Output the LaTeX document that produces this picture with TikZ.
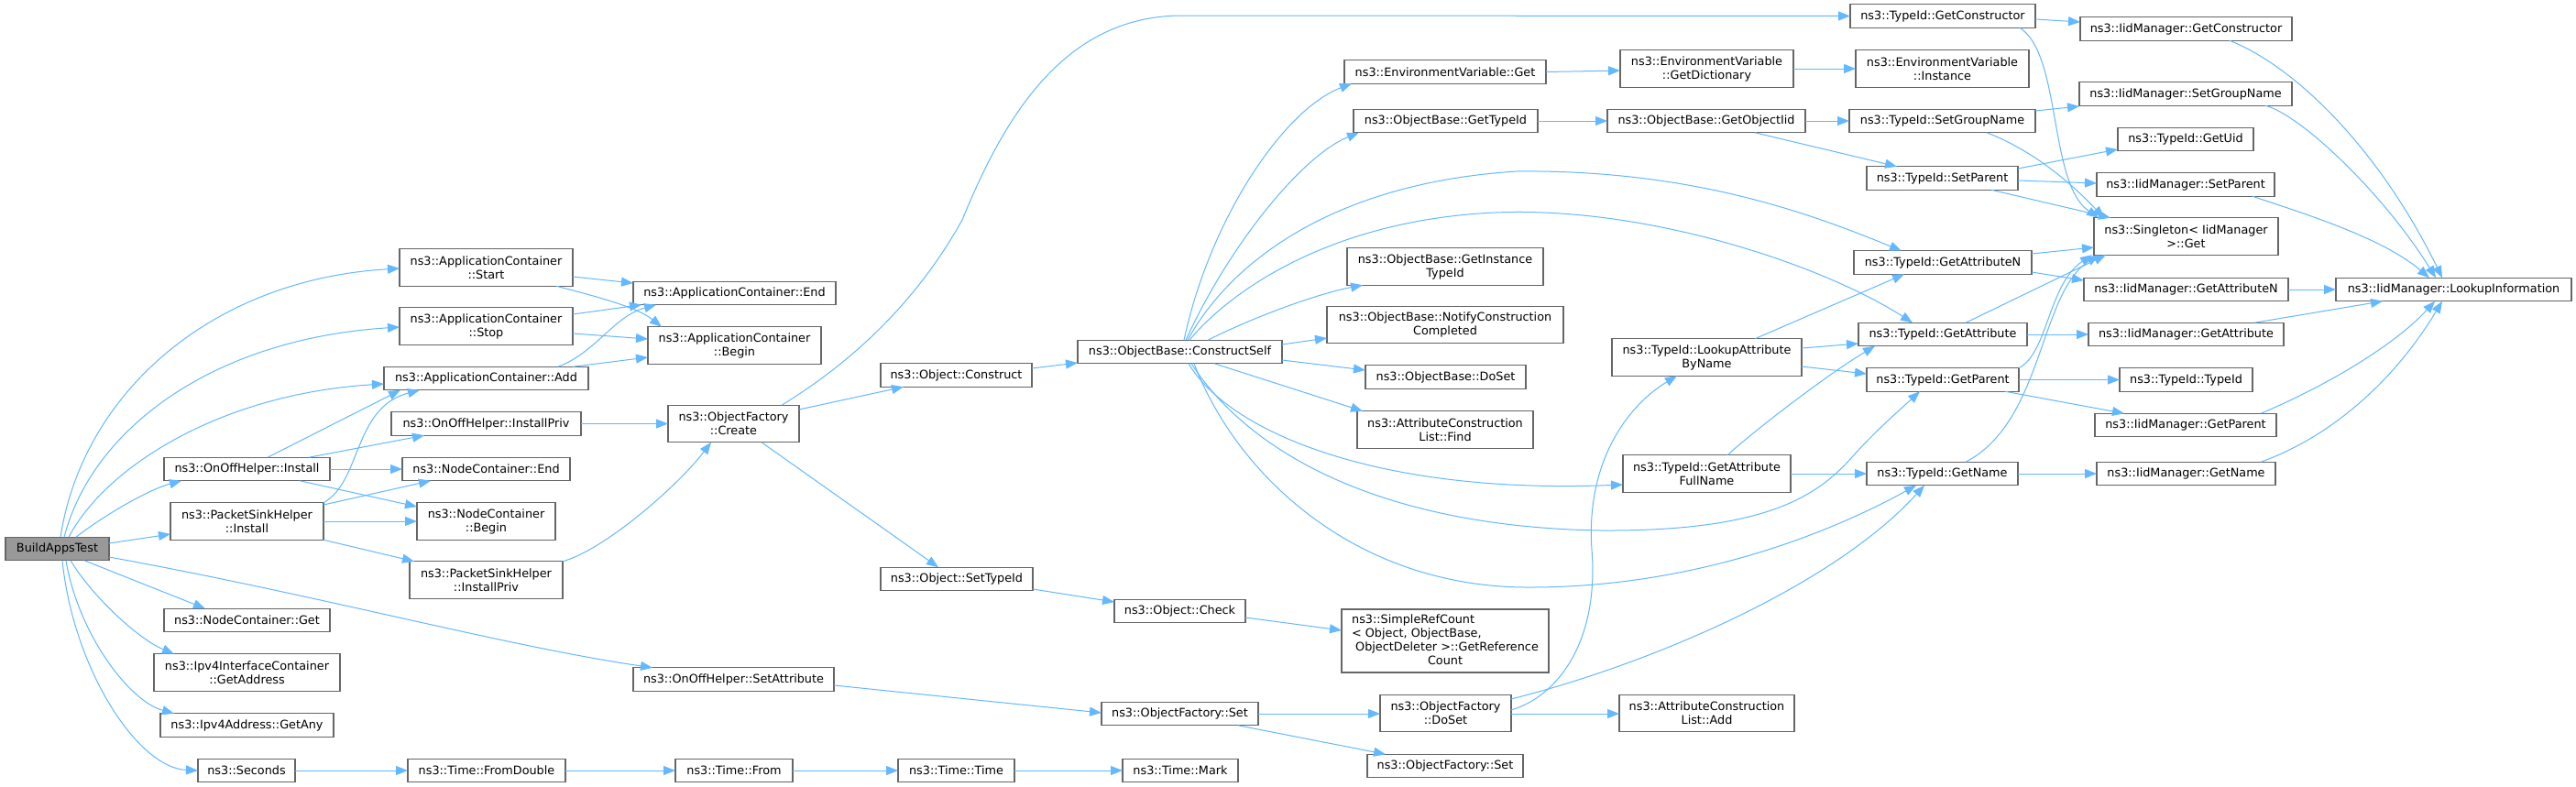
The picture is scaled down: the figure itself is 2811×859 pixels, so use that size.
\documentclass[tikz,border=0pt]{standalone}
\usepackage{fontspec}
\setmainfont{DejaVu Sans}
\usetikzlibrary{arrows.meta}
\definecolor{edgec}{HTML}{63B8FF}
\definecolor{nodeb}{HTML}{666666}
\definecolor{rootf}{HTML}{999999}
\newcommand\nd[7][]{\node[box,#1,minimum width=#5bp,minimum height=#6bp] (#2) at (#3,#4) {#7};}
\begin{document}
\begin{tikzpicture}[x=1bp,y=-1bp,
  box/.style={draw=nodeb,line width=1.1bp,fill=white,inner sep=0pt,outer sep=0pt,align=center,
    font=\fontsize{12.8bp}{15bp}\selectfont,text=black},
  e/.style={draw=edgec,line width=1bp,-{Triangle[length=13bp,width=10bp]}}]
\fill[white] (0,0) rectangle (2811,859);
\useasboundingbox (0,0) rectangle (2811,859);
% column 1
\nd[fill=rootf]{bat}{62.5}{599}{113}{25.5}{BuildAppsTest}
% column 2
\nd{ooinst}{269.5}{512}{181}{25.5}{ns3::OnOffHelper::Install}
\nd{psinst}{269.5}{569}{167}{40.5}{ns3::PacketSinkHelper\\::Install}
\nd{ncget}{269.5}{677}{181}{25.5}{ns3::NodeContainer::Get}
\nd{ipvic}{269.5}{734}{203}{40.5}{ns3::Ipv4InterfaceContainer\\::GetAddress}
\nd{ipvany}{269.5}{791.5}{189}{25.5}{ns3::Ipv4Address::GetAny}
\nd{seconds}{269}{841}{106}{25.5}{ns3::Seconds}
% column 3
\nd{acstart}{530.5}{292}{189}{40.5}{ns3::ApplicationContainer\\::Start}
\nd{acstop}{530.5}{356}{189}{40.5}{ns3::ApplicationContainer\\::Stop}
\nd{acadd}{530.5}{413}{223}{25.5}{ns3::ApplicationContainer::Add}
\nd{ooinstpriv}{530.5}{462.5}{207}{25.5}{ns3::OnOffHelper::InstallPriv}
\nd{ncend}{530.5}{512}{183}{25.5}{ns3::NodeContainer::End}
\nd{ncbegin}{530.5}{569}{151}{40.5}{ns3::NodeContainer\\::Begin}
\nd{psinstpriv}{530.5}{633}{167}{40.5}{ns3::PacketSinkHelper\\::InstallPriv}
\nd{fromdouble}{531}{841}{172}{25.5}{ns3::Time::FromDouble}
% column 4
\nd{acend}{801.5}{320}{221}{25.5}{ns3::ApplicationContainer::End}
\nd{acbegin}{801.5}{377}{189}{40.5}{ns3::ApplicationContainer\\::Begin}
\nd{ofcreate}{800.5}{462.5}{143}{40.5}{ns3::ObjectFactory\\::Create}
\nd{ooset}{800.5}{741.5}{219}{25.5}{ns3::OnOffHelper::SetAttribute}
\nd{tfrom}{801}{841}{128}{25.5}{ns3::Time::From}
% column 5
\nd{objconstruct}{1043.5}{409.5}{165}{25.5}{ns3::Object::Construct}
\nd{objsettid}{1044}{632}{166}{25.5}{ns3::Object::SetTypeId}
\nd{ttime}{1043.5}{841}{127}{25.5}{ns3::Time::Time}
% column 6
\nd{cself}{1287.5}{384}{223}{25.5}{ns3::ObjectBase::ConstructSelf}
\nd{objcheck}{1287.5}{667}{143}{25.5}{ns3::Object::Check}
\nd{ofsetA}{1287.5}{779}{171}{25.5}{ns3::ObjectFactory::Set}
\nd{tmark}{1288}{841}{126}{25.5}{ns3::Time::Mark}
% column 7
\nd{envget}{1577}{78.5}{220}{25.5}{ns3::EnvironmentVariable::Get}
\nd{obgettid}{1577.5}{132}{201}{25.5}{ns3::ObjectBase::GetTypeId}
\nd{obgetinst}{1577}{291}{214}{40.5}{ns3::ObjectBase::GetInstance\\TypeId}
\nd{obnotify}{1577}{354.5}{258}{40.5}{ns3::ObjectBase::NotifyConstruction\\Completed}
\nd{obdoset}{1577.5}{411.5}{175}{25.5}{ns3::ObjectBase::DoSet}
\nd{acfind}{1577}{469}{192}{40.5}{ns3::AttributeConstruction\\List::Find}
\nd{simpleref}{1577}{699.5}{226}{69}{\begin{tabular}{@{}l@{}}ns3::SimpleRefCount\\< Object, ObjectBase,\\\ ObjectDeleter >::GetReference\\\multicolumn{1}{@{}c@{}}{Count}\end{tabular}}
\nd{ofdoset}{1577.5}{778.5}{143}{40.5}{ns3::ObjectFactory\\::DoSet}
\nd{ofsetB}{1577}{836}{170}{25.5}{ns3::ObjectFactory::Set}
% column 8
\nd{envdict}{1862.5}{75}{189}{40.5}{ns3::EnvironmentVariable\\::GetDictionary}
\nd{getobjiid}{1862}{132}{216}{25.5}{ns3::ObjectBase::GetObjectIid}
\nd{lookupbn}{1862.5}{390}{207}{40.5}{ns3::TypeId::LookupAttribute\\ByName}
\nd{fullname}{1862.5}{517}{183}{40.5}{ns3::TypeId::GetAttribute\\FullName}
\nd{acladd}{1862.5}{778.5}{191}{40.5}{ns3::AttributeConstruction\\List::Add}
% column 9
\nd{tidgetctor}{2120}{17.5}{202}{25.5}{ns3::TypeId::GetConstructor}
\nd{envinst}{2119.5}{75}{189}{40.5}{ns3::EnvironmentVariable\\::Instance}
\nd{tidsetgroup}{2119.5}{132}{203}{25.5}{ns3::TypeId::SetGroupName}
\nd{tidsetparent}{2119.5}{194.5}{165}{25.5}{ns3::TypeId::SetParent}
\nd{tidgetattrn}{2120}{286.5}{194}{25.5}{ns3::TypeId::GetAttributeN}
\nd{tidgetattr}{2120}{365}{184}{25.5}{ns3::TypeId::GetAttribute}
\nd{tidgetparent}{2120}{414.5}{166}{25.5}{ns3::TypeId::GetParent}
\nd{tidgetname}{2119.5}{517}{165}{25.5}{ns3::TypeId::GetName}
% column 10
\nd{iidgetctor}{2385.5}{31.5}{231}{25.5}{ns3::IidManager::GetConstructor}
\nd{iidsetgroup}{2385}{102.5}{232}{25.5}{ns3::IidManager::SetGroupName}
\nd{tidgetuid}{2385}{152}{148}{25.5}{ns3::TypeId::GetUid}
\nd{iidsetparent}{2385}{201.5}{194}{25.5}{ns3::IidManager::SetParent}
\nd{singleton}{2385.5}{258}{201}{40.5}{ns3::Singleton< IidManager\\ >::Get}
\nd{iidgetattrn}{2385.5}{316}{223}{25.5}{ns3::IidManager::GetAttributeN}
\nd{iidgetattr}{2385.5}{365}{213}{25.5}{ns3::IidManager::GetAttribute}
\nd{tidtypeid}{2385.5}{414.5}{145}{25.5}{ns3::TypeId::TypeId}
\nd{iidgetparent}{2385}{464}{198}{25.5}{ns3::IidManager::GetParent}
\nd{iidgetname}{2385.5}{517}{195}{25.5}{ns3::IidManager::GetName}
% column 11
\nd{lookupinfo}{2677.5}{316}{257}{25.5}{ns3::IidManager::LookupInformation}
% ---------------- edges ----------------
% BuildAppsTest
\draw[e] (bat.north -| 66,0) .. controls (90,430) and (230,305) .. (acstart.west |- 0,293);
\draw[e] (bat.north -| 70,0) .. controls (100,470) and (230,370) .. (acstop.west |- 0,357);
\draw[e] (bat.north -| 75,0) .. controls (115,510) and (240,430) .. (acadd.west |- 0,419);
\draw[e] (bat.north -| 83,0) .. controls (110,565) and (160,535) .. (ooinst.south -| 198,0);
\draw[e] (bat.east |- 0,593) -- (psinst.west |- 0,583);
\draw[e] (bat.east |- 0,608) .. controls (350,650) and (550,705) .. (ooset.north -| 712,0);
\draw[e] (bat.south -| 92,0) -- (ncget.north -| 224,0);
\draw[e] (bat.south -| 77,0) .. controls (100,650) and (150,697) .. (ipvic.north -| 190,0);
\draw[e] (bat.south -| 72,0) .. controls (85,690) and (140,765) .. (ipvany.north -| 190,0);
\draw[e] (bat.south -| 68,0) .. controls (80,730) and (150,838) .. (seconds.west);
% OnOffHelper::Install
\draw[e] (ooinst.north -| 292,0) -- (acadd.south -| 437,0);
\draw[e] (ooinst.north -| 337,0) -- (ooinstpriv.south -| 463,0);
\draw[e] (ooinst.east) -- (ncend.west);
\draw[e] (ooinst.south -| 327,0) -- (ncbegin.west |- 0,553);
% PacketSinkHelper::Install
\draw[e] (psinst.north east) .. controls (395,525) and (385,445) .. (acadd.south -| 458,0);
\draw[e] (psinst.east |- 0,551) -- (ncend.south -| 470,0);
\draw[e] (psinst.east) -- (ncbegin.west);
\draw[e] (psinst.south east) -- (psinstpriv.north -| 452,0);
% ApplicationContainer
\draw[e] (acstart.east |- 0,302) -- (acend.west |- 0,309);
\draw[e] (acstart.south -| 607,0) .. controls (645,322) and (695,335) .. (acbegin.north -| 722,0);
\draw[e] (acstop.east |- 0,343) -- (acend.south -| 700,0);
\draw[e] (acstop.east |- 0,364) -- (acbegin.west |- 0,370);
\draw[e] (acadd.north -| 609,0) .. controls (650,385) and (670,345) .. (acend.south -| 716,0);
\draw[e] (acadd.north -| 625,0) -- (acbegin.west |- 0,390);
% InstallPriv
\draw[e] (ooinstpriv.east) -- (ofcreate.west);
\draw[e] (psinstpriv.north east) .. controls (660,600) and (740,530) .. (ofcreate.south -| 776,0);
% ObjectFactory::Create
\draw[e] (ofcreate.north -| 853,0) .. controls (930,395) and (1000,330) .. (1050,240)
   .. controls (1095,130) and (1160,17) .. (1290,17) -- (tidgetctor.west);
\draw[e] (ofcreate.east |- 0,447) -- (objconstruct.south -| 986,0);
\draw[e] (ofcreate.south -| 831,0) -- (objsettid.north -| 1024,0);
\draw[e] (objconstruct.east |- 0,402) -- (cself.west |- 0,396);
\draw[e] (objsettid.east |- 0,643) -- (objcheck.west |- 0,657);
\draw[e] (objcheck.east |- 0,674) -- (simpleref.west |- 0,688);
% SetAttribute chain
\draw[e] (ooset.east |- 0,748) -- (ofsetA.west |- 0,778);
\draw[e] (ofsetA.east) -- (ofdoset.west |- 0,779);
\draw[e] (ofsetA.south -| 1351,0) -- (ofsetB.north -| 1512,0);
\draw[e] (ofdoset.east |- 0,779) -- (acladd.west |- 0,779);
\draw[e] (ofdoset.east |- 0,775) .. controls (1700,760) and (1745,700) .. (1737,600)
   .. controls (1730,500) and (1780,440) .. (lookupbn.south -| 1830,0);
\draw[e] (ofdoset.east |- 0,763) .. controls (1800,725) and (2000,640) .. (tidgetname.south -| 2100,0);
% ConstructSelf
\draw[e] (cself.north -| 1292,0) .. controls (1320,240) and (1400,120) .. (envget.south -| 1475,0);
\draw[e] (cself.north -| 1294,0) .. controls (1340,270) and (1420,170) .. (obgettid.south -| 1483,0);
\draw[e] (cself.north -| 1296,0) .. controls (1340,290) and (1450,200) .. (1655,187)
   .. controls (1850,185) and (1980,235) .. (tidgetattrn.north -| 2075,0);
\draw[e] (cself.north -| 1298,0) .. controls (1340,320) and (1450,240) .. (1632,232)
   .. controls (1800,225) and (1990,290) .. (tidgetattr.north -| 2087,0);
\draw[e] (cself.north -| 1318,0) .. controls (1370,345) and (1440,320) .. (obgetinst.south -| 1487,0);
\draw[e] (cself.east |- 0,376) -- (obnotify.west |- 0,369);
\draw[e] (cself.east |- 0,393) -- (obdoset.west |- 0,404);
\draw[e] (cself.south -| 1325,0) -- (acfind.north -| 1487,0);
\draw[e] (cself.south -| 1297,0) .. controls (1340,470) and (1500,540) .. (fullname.west |- 0,529);
\draw[e] (cself.south -| 1300,0) .. controls (1360,490) and (1500,575) .. (1747,579)
   .. controls (1920,580) and (1980,545) .. (2020,500)
   .. controls (2045,472) and (2070,450) .. (tidgetparent.south -| 2095,0);
\draw[e] (cself.south -| 1303,0) .. controls (1350,520) and (1480,640) .. (1665,641)
   .. controls (1850,642) and (2000,580) .. (tidgetname.south -| 2091,0);
% middle right
\draw[e] (envget.east) -- (envdict.west |- 0,77);
\draw[e] (envdict.east) -- (envinst.west);
\draw[e] (obgettid.east) -- (getobjiid.west);
\draw[e] (getobjiid.east) -- (tidsetgroup.west);
\draw[e] (getobjiid.south -| 1915,0) -- (tidsetparent.north -| 2070,0);
\draw[e] (lookupbn.north -| 1915,0) -- (tidgetattrn.south -| 2078,0);
\draw[e] (lookupbn.east |- 0,380) -- (tidgetattr.west |- 0,375);
\draw[e] (lookupbn.east |- 0,400) -- (tidgetparent.west |- 0,408);
\draw[e] (fullname.east) -- (tidgetname.west);
\draw[e] (fullname.north -| 1885,0) .. controls (1920,465) and (2000,405) .. (tidgetattr.south -| 2046,0);
% TypeId column
\draw[e] (tidgetctor.east |- 0,21) -- (iidgetctor.west |- 0,24);
\draw[e] (tidgetctor.south -| 2204,0) .. controls (2250,60) and (2235,200) .. (singleton.north -| 2290,0);
\draw[e] (tidsetgroup.east |- 0,121) -- (iidsetgroup.west |- 0,116);
\draw[e] (tidsetgroup.south -| 2168,0) .. controls (2220,165) and (2260,200) .. (singleton.north -| 2296,0);
\draw[e] (tidsetparent.east |- 0,184) -- (tidgetuid.west |- 0,163);
\draw[e] (tidsetparent.east |- 0,197) -- (iidsetparent.west |- 0,200);
\draw[e] (tidsetparent.south -| 2173,0) -- (singleton.north -| 2303,0);
\draw[e] (tidgetattrn.east |- 0,277) -- (singleton.west |- 0,270);
\draw[e] (tidgetattrn.east |- 0,297) -- (iidgetattrn.west |- 0,306);
\draw[e] (tidgetattr.east) -- (iidgetattr.west);
\draw[e] (tidgetattr.north -| 2145,0) -- (singleton.south -| 2298,0);
\draw[e] (tidgetparent.east) -- (tidtypeid.west);
\draw[e] (tidgetparent.north east) .. controls (2235,385) and (2235,310) .. (singleton.south -| 2283,0);
\draw[e] (tidgetparent.south -| 2188,0) -- (iidgetparent.north -| 2318,0);
\draw[e] (tidgetname.east) -- (iidgetname.west);
\draw[e] (tidgetname.north -| 2145,0) .. controls (2230,460) and (2225,320) .. (singleton.south -| 2290,0);
% IidManager column
\draw[e] (iidgetctor.south -| 2433,0) .. controls (2510,75) and (2600,170) .. (lookupinfo.north -| 2665,0);
\draw[e] (iidsetgroup.south -| 2472,0) .. controls (2510,125) and (2600,210) .. (lookupinfo.north -| 2658,0);
\draw[e] (iidsetparent.south -| 2458,0) .. controls (2520,235) and (2600,260) .. (lookupinfo.north -| 2651,0);
\draw[e] (iidgetattrn.east) -- (lookupinfo.west);
\draw[e] (iidgetattr.north -| 2460,0) -- (lookupinfo.south -| 2600,0);
\draw[e] (iidgetparent.north -| 2467,0) .. controls (2530,425) and (2610,380) .. (lookupinfo.south -| 2657,0);
\draw[e] (iidgetname.north -| 2467,0) .. controls (2540,478) and (2610,420) .. (lookupinfo.south -| 2665,0);
% Seconds chain
\draw[e] (seconds.east) -- (fromdouble.west);
\draw[e] (fromdouble.east) -- (tfrom.west);
\draw[e] (tfrom.east) -- (ttime.west);
\draw[e] (ttime.east) -- (tmark.west);
\end{tikzpicture}
\end{document}
